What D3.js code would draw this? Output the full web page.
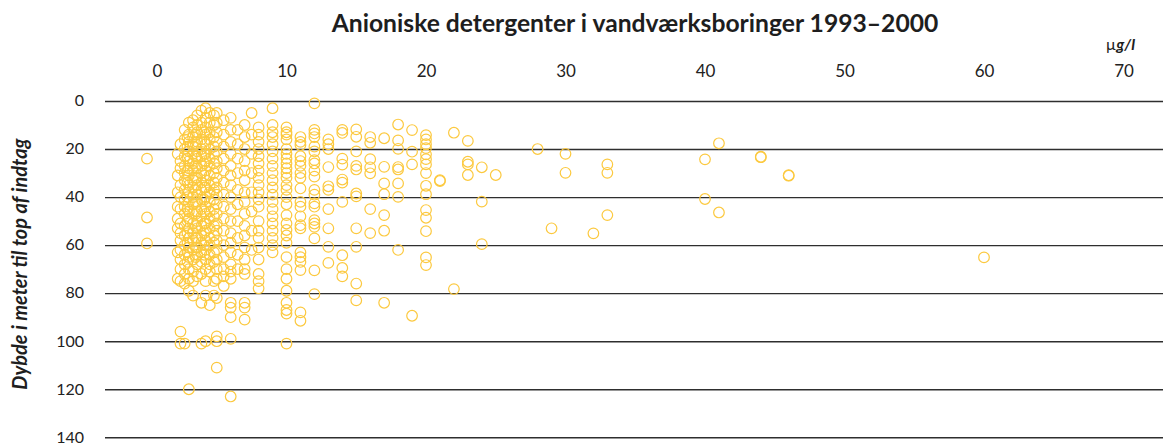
<!DOCTYPE html>
<html>
<head>
<meta charset="utf-8">
<script src="https://cdn.jsdelivr.net/npm/d3@7"></script>
<style>
body { margin: 0; background: #fff; }
svg { display: block; font-family: Lato, "Open Sans", sans-serif; }
</style>
</head>
<body>
<svg width="1163" height="445"></svg>
<script>
// tick values
var xTicks = [0, 10, 20, 30, 40, 50, 60, 70];
var yTicks = [0, 20, 40, 60, 80, 100, 120, 140];

// concentration (µg/l) and the depths (m) measured at that concentration
var concentrations = [0, 2.2, 2.4, 2.7, 2.9, 3, 3.3, 3.5, 3.6, 3.9, 4.1, 4.2, 4.5, 4.8, 5, 5.5, 6, 6.5, 7, 7.5, 8, 9,
    10, 11, 12, 13, 14, 15, 16, 17, 18, 19, 20, 21, 22, 23, 24, 25, 28, 29, 30, 32, 33, 40, 41, 44, 46, 60];

var depthsByConc = [
    [24, 48.5, 59.3],
    [22, 31, 38, 44, 49, 53, 63, 74],
    [18, 25, 28, 35, 40, 45, 51, 55, 58, 62, 66, 70, 75, 96, 101],
    [12, 16, 20, 23, 27, 30, 33, 37, 41, 44, 47, 52, 56, 60, 64, 68, 72, 76, 101],
    [15, 19, 24, 29, 34, 40, 45, 50, 55, 59, 63, 67],
    [9, 14, 17, 21, 25, 28, 31, 35, 38, 42, 46, 49, 53, 57, 61, 65, 70, 74, 79, 120],
    [8, 11, 15, 19, 22, 26, 29, 33, 36, 40, 43, 47, 51, 55, 58, 62, 66, 71, 75, 81],
    [14, 18, 23, 27, 32, 37, 42, 47, 52, 57, 61, 65],
    [6, 10, 13, 17, 21, 24, 28, 32, 35, 39, 42, 46, 50, 53, 57, 61, 64, 68, 73],
    [4, 9, 12, 16, 20, 23, 27, 30, 34, 37, 41, 45, 48, 52, 56, 59, 63, 67, 72, 84, 101],
    [13, 17, 22, 26, 31, 36, 41, 46, 51, 55, 60, 64],
    [3, 7, 11, 14, 18, 22, 25, 29, 33, 36, 40, 44, 47, 51, 54, 58, 62, 66, 70, 75, 81, 100],
    [5, 9, 13, 16, 20, 24, 27, 31, 35, 38, 42, 46, 49, 53, 57, 60, 64, 68, 71, 85],
    [6, 10, 15, 19, 22, 26, 30, 34, 37, 41, 45, 48, 52, 56, 59, 63, 67, 75, 81],
    [5, 9, 13, 17, 21, 25, 28, 32, 36, 39, 43, 47, 51, 54, 58, 62, 66, 70, 74, 82, 98, 100, 111],
    [8, 14, 19, 24, 29, 34, 39, 44, 49, 54, 60, 65, 70, 73, 77],
    [7, 12, 17, 22, 27, 31, 35, 40, 45, 50, 55, 59, 63, 68, 71, 74, 84, 86, 90, 99, 123],
    [12, 18, 24, 30, 37, 43, 50, 57, 64, 70],
    [10, 15, 20, 25, 29, 33, 38, 42, 47, 52, 56, 61, 66, 70, 72, 84, 86, 91],
    [5, 14, 22, 30, 38, 46, 54, 62],
    [11, 14, 17, 20, 23, 26, 29, 32, 35, 38, 41, 44, 50, 54, 57, 61, 66, 72, 75, 78],
    [3, 10, 13, 15, 18, 21, 24, 27, 30, 33, 36, 39, 42, 45, 48, 51, 54, 57, 60, 63],
    [11, 13, 14, 16, 20, 22, 24, 26, 28, 30, 32, 35, 37, 40, 43, 47.5, 51, 53.7, 56, 59, 65, 70, 74, 79, 84, 87, 88.5, 101],
    [15, 17, 18.3, 23, 25, 27, 30, 32, 36.4, 42, 44, 48, 51.7, 53, 63, 65, 67, 70.4, 88, 91.5],
    [1, 12, 13.5, 15, 19, 21, 24.6, 26, 29, 31.5, 37, 39, 42.6, 44, 49.6, 51, 52.4, 57.2, 70.5, 80.4],
    [16, 18, 20, 27.5, 35.5, 37, 45, 53, 60.7, 67.4],
    [12, 13.3, 24, 26.5, 32.7, 34, 42, 64.2, 69.5, 73],
    [11.8, 14.9, 21, 27, 28.5, 38.5, 39.7, 53, 60.7, 76, 83],
    [15, 17.4, 24.2, 27.6, 30.1, 45, 55],
    [15.5, 27.4, 34.3, 38.8, 47.5, 54, 84],
    [9.8, 16.4, 19.9, 27.5, 28.5, 34.3, 39.9, 62],
    [12.1, 21.1, 26.4, 89.4],
    [14.2, 16, 18, 19.6, 22.2, 24.2, 26.4, 30, 35.3, 38.8, 45.4, 48.6, 54.2, 65.1, 68.3],
    [33, 33.3],
    [13.2, 78.3],
    [16.6, 25.3, 26.4, 30.8],
    [27.6, 41.9, 59.6],
    [30.8],
    [20],
    [53],
    [22, 29.9],
    [55.1],
    [26.4, 29.9, 47.5],
    [24.3, 40.8],
    [17.6, 46.4],
    [23.2, 23.4],
    [30.9, 31.1],
    [65.1]
];

var points = [];
concentrations.forEach(function(c, i) {
    depthsByConc[i].forEach(function(d) {
        points.push({conc: c, depth: d});
    });
});

var svg = d3.select('svg');
var svgWidth = +svg.attr('width');

var xScale = d3.scaleLinear().domain([0, 70]).range([147, 1123.5]);
var yScale = d3.scaleLinear().domain([0, 140]).range([101, 437.3]);

// horizontal grid lines + depth labels
var yAxis = svg.append('g')
    .attr('class', 'y axis')
    .attr('transform', 'translate(105,0)')
    .call(d3.axisLeft(yScale).tickValues(yTicks).tickSize(-(svgWidth - 105)).tickPadding(21));
yAxis.select('.domain').remove();
yAxis.selectAll('line').attr('stroke', '#2e2e2e').attr('stroke-width', 1.4);
yAxis.selectAll('text')
    .attr('fill', '#222')
    .attr('dy', '0.3em')
    .style('font-size', '16px')
    .style('font-family', 'Lato, sans-serif');

// concentration labels along the top
var xAxis = svg.append('g')
    .attr('class', 'x axis')
    .attr('transform', 'translate(0,77)')
    .call(d3.axisTop(xScale).tickValues(xTicks).tickSize(0).tickPadding(0));
xAxis.select('.domain').remove();
xAxis.selectAll('text')
    .attr('fill', '#222')
    .style('font-size', '17px')
    .style('font-family', 'Lato, sans-serif');
xAxis.selectAll('.tick').filter(function(d) { return d === 0; })
    .select('text').attr('dx', 10);

// the points
svg.append('g').selectAll('circle')
    .data(points)
    .enter().append('circle')
    .attr('cx', d => xScale(d.conc))
    .attr('cy', d => yScale(d.depth))
    .attr('r', 5.3)
    .attr('fill', 'none')
    .attr('stroke', '#fcc93f')
    .attr('stroke-width', 1.2);

// title, sized to the reference width
var title = svg.append('text')
    .attr('x', 635)
    .attr('y', 32)
    .attr('text-anchor', 'middle')
    .attr('fill', '#1e1e1e')
    .style('font-weight', 'bold')
    .style('font-size', '20px')
    .text('Anioniske detergenter i vandværksboringer 1993–2000');
var tw = title.node().getComputedTextLength();
title.style('font-size', (20 * 607 / tw).toFixed(2) + 'px');

// unit
var unit = svg.append('text')
    .attr('x', 1135)
    .attr('y', 50)
    .attr('text-anchor', 'end')
    .attr('fill', '#1e1e1e')
    .style('font-size', '16px');
unit.append('tspan').text('µ');
unit.append('tspan').style('font-weight', 'bold').style('font-style', 'italic').text('g/l');

// y axis label, stretched to the reference length
var yLabel = svg.append('text')
    .attr('transform', 'translate(27,264) rotate(-90)')
    .attr('text-anchor', 'middle')
    .attr('fill', '#1e1e1e')
    .style('font-weight', 'bold')
    .style('font-style', 'italic')
    .style('font-size', '16px')
    .text('Dybde i meter til top af indtag');
var lw = yLabel.node().getComputedTextLength();
yLabel.style('font-size', Math.min(20, 16 * 262 / lw).toFixed(2) + 'px');
</script>
</body>
</html>
